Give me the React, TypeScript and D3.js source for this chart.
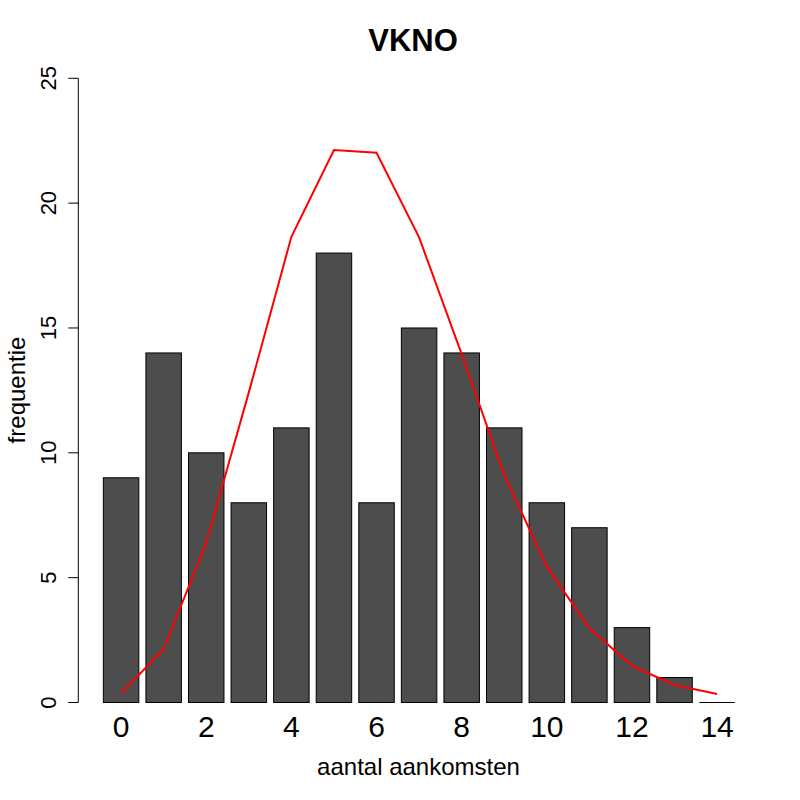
import React from "react";
import * as d3 from "d3";

const categories = [0, 1, 2, 3, 4, 5, 6, 7, 8, 9, 10, 11, 12, 13, 14];
const observed = [9, 14, 10, 8, 11, 18, 8, 15, 14, 11, 8, 7, 3, 1, 0];
const expected = [0.37, 2.13, 6.4, 12.42, 18.65, 22.13, 22.02, 18.63, 13.95, 9.11, 5.44, 2.97, 1.47, 0.7, 0.34];
const yTicks = [0, 5, 10, 15, 20, 25];
const xLabelCats = [0, 2, 4, 6, 8, 10, 12, 14];

const FONT = "'Liberation Sans', Arial, Helvetica, sans-serif";

export default function App() {
  const W = 800, H = 800;
  // R barplot-style coordinate system: width 1, space 0.2
  const x = d3.scaleLinear().domain([-0.52, 18.72]).range([77.8, 760.4]);
  const y = d3.scaleLinear().domain([0, 25]).range([702.5, 78.3]);
  const left = (i: number) => x(0.2 + 1.2 * i);
  const center = (i: number) => x(0.7 + 1.2 * i);
  const bw = x(1) - x(0);

  const line = d3
    .line<number>()
    .x((_, i) => center(i))
    .y((d) => y(d));

  return (
    <svg
      width={W}
      height={H}
      style={{ position: "absolute", left: 0, top: 0, background: "#fff" }}
      fontFamily={FONT}
    >
      <rect x={0} y={0} width={W} height={H} fill="#fff" />
      {/* bars */}
      {categories.map((c, i) =>
        observed[i] > 0 ? (
          <rect
            key={c}
            x={left(i)}
            y={y(observed[i])}
            width={bw}
            height={y(0) - y(observed[i])}
            fill="#4d4d4d"
            stroke="#000"
            strokeWidth={1}
          />
        ) : (
          <line
            key={c}
            x1={left(i)}
            x2={left(i) + bw}
            y1={y(0)}
            y2={y(0)}
            stroke="#000"
            strokeWidth={1}
          />
        )
      )}
      {/* expected line */}
      <path d={line(expected) || ""} fill="none" stroke="#ff0000" strokeWidth={2} />
      {/* y axis */}
      <line x1={78.3} x2={78.3} y1={y(0)} y2={y(25)} stroke="#000" strokeWidth={1} />
      {yTicks.map((t) => (
        <g key={t}>
          <line x1={68.3} x2={78.3} y1={y(t)} y2={y(t)} stroke="#000" strokeWidth={1} />
          <text
            transform={`translate(56,${y(t)}) rotate(-90)`}
            textAnchor="middle"
            fontSize={22}
            fill="#000"
          >
            {t}
          </text>
        </g>
      ))}
      {/* x labels */}
      {xLabelCats.map((c) => (
        <text key={c} x={center(c)} y={737} textAnchor="middle" fontSize={30} fill="#000">
          {c}
        </text>
      ))}
      {/* titles */}
      <text x={413} y={51} textAnchor="middle" fontSize={31} fontWeight="bold" fill="#000">
        VKNO
      </text>
      <text x={418.5} y={775} textAnchor="middle" fontSize={24} fill="#000">
        aantal aankomsten
      </text>
      <text transform="translate(25,390) rotate(-90)" textAnchor="middle" fontSize={24} fill="#000">
        frequentie
      </text>
    </svg>
  );
}
